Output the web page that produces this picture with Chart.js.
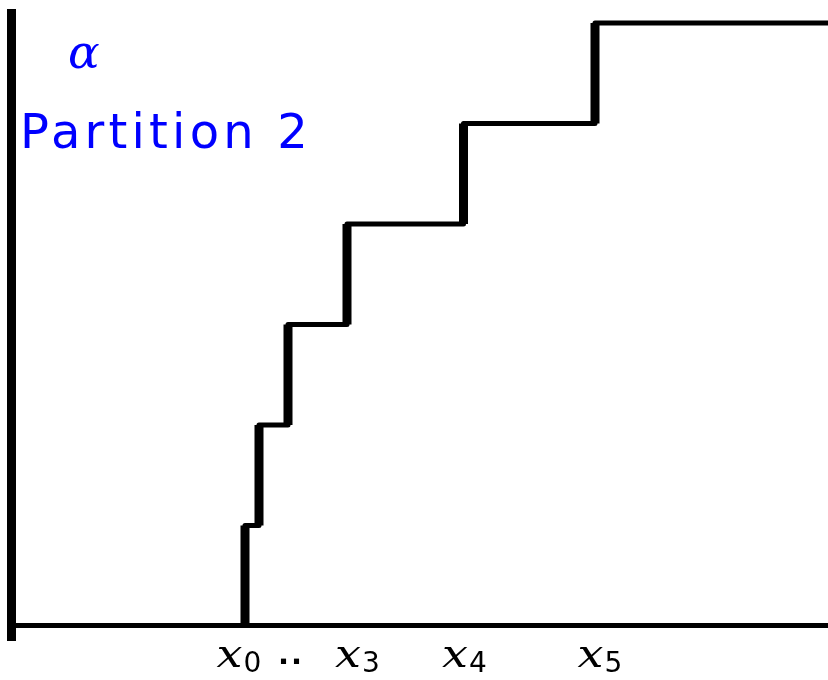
<!DOCTYPE html>
<html><head><meta charset="utf-8">
<script src="https://cdn.jsdelivr.net/npm/chart.js@4.4.1/dist/chart.umd.min.js"></script>
<style>html,body{margin:0;padding:0;background:#fff}#wrap{position:relative;width:828px;height:680px}</style>
</head><body><div id="wrap"><canvas id="c"></canvas></div>
<script>
// x positions of the jumps x0..x5 and the levels reached after each jump
const jumpX = [234, 248, 277, 336, 452.5, 584];
const levels = [1, 2, 3, 4, 5, 6];
const baseLevel = 0;
const xEnd = 817;
// tick labels along the bottom axis
const tickPos = [228, 280, 346.5, 453.5, 589];
const tickMain = ['x', '..', 'x', 'x', 'x'];
const tickSub = ['0', '', '3', '4', '5'];
const labelAlpha = 'α';
const labelTitle = 'Partition 2';

const stepPts = [{x: jumpX[0], y: baseLevel}];
jumpX.forEach((x, i) => stepPts.push({x: x, y: levels[i]}));
stepPts.push({x: xEnd, y: levels[levels.length - 1]});

const vertPts = [];
jumpX.forEach((x, i) => {
  vertPts.push({x: x, y: i ? levels[i - 1] : baseLevel});
  vertPts.push({x: x, y: levels[i]});
  vertPts.push({x: x, y: null});
});

const textPlugin = {
  id: 'texts',
  afterDraw(chart) {
    const ctx = chart.ctx, xs = chart.scales.x, area = chart.chartArea;
    const hasLS = 'letterSpacing' in ctx;
    ctx.save();
    ctx.textBaseline = 'alphabetic';
    ctx.textAlign = 'left';
    ctx.fillStyle = '#0000ff';
    ctx.font = 'italic 47px "DejaVu Serif"';
    ctx.fillText(labelAlpha, area.left + 57, 68);
    ctx.font = '48px "DejaVu Sans"';
    if (hasLS) ctx.letterSpacing = '4.2px';
    ctx.fillText(labelTitle, area.left + 9, 148);
    if (hasLS) ctx.letterSpacing = '0px';
    ctx.fillStyle = '#000';
    const subFont = '28px "DejaVu Sans"';
    const sx = 1.15;
    tickPos.forEach((v, i) => {
      const cx = xs.getPixelForValue(v);
      const hasSub = tickSub[i] !== '';
      const mainFont = hasSub ? 'italic 40px "DejaVu Serif"' : 'bold 29px "DejaVu Sans"';
      ctx.font = mainFont;
      if (!hasSub && hasLS) ctx.letterSpacing = '2px';
      const mw = ctx.measureText(tickMain[i]).width * (hasSub ? sx : 1);
      ctx.font = subFont;
      const sw = hasSub ? ctx.measureText(tickSub[i]).width : 0;
      const gap = 1;
      const total = mw + (hasSub ? gap + sw : 0);
      const x0 = cx - total / 2;
      ctx.font = mainFont;
      if (hasSub) {
        ctx.save();
        ctx.translate(x0, 667);
        ctx.scale(sx, 1);
        ctx.fillText(tickMain[i], 0, 0);
        ctx.restore();
      } else {
        ctx.fillText(tickMain[i], x0, 664);
      }
      if (hasLS) ctx.letterSpacing = '0px';
      if (hasSub) {
        ctx.font = subFont;
        ctx.fillText(tickSub[i], x0 + mw + gap, 672);
      }
    });
    ctx.restore();
  }
};

new Chart(document.getElementById('c'), {
  type: 'line',
  data: {
    datasets: [
      {data: stepPts, stepped: 'before', borderColor: '#000', borderWidth: 5, pointRadius: 0, fill: false, borderJoinStyle: 'round'},
      {data: vertPts, borderColor: '#000', borderWidth: 9, pointRadius: 0, spanGaps: false, fill: false, borderCapStyle: 'butt'}
    ]
  },
  options: {
    responsive: true,
    maintainAspectRatio: false,
    animation: false,
    events: [],
    layout: {padding: {left: 11, right: 0, top: 13, bottom: 40}},
    plugins: {legend: {display: false}, tooltip: {enabled: false}, title: {display: false}},
    scales: {
      x: {type: 'linear', min: 0, max: xEnd, position: {y: 0},
          grid: {display: false}, ticks: {display: false},
          border: {display: true, color: '#000', width: 5}},
      y: {type: 'linear', min: -0.14, max: 6.1, position: {x: 0},
          grid: {display: false}, ticks: {display: false},
          border: {display: true, color: '#000', width: 9}}
    }
  },
  plugins: [textPlugin]
});
</script>
</body></html>
